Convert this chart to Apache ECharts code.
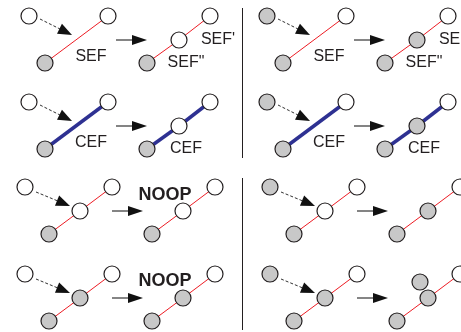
<!DOCTYPE html>
<html>
<head>
<meta charset="utf-8">
<script src="https://cdn.jsdelivr.net/npm/echarts@6/dist/echarts.min.js"></script>
<style>
  html, body { margin: 0; padding: 0; background: #fff; }
  #main { width: 461px; height: 332px; }
</style>
</head>
<body>
<div id="main"></div>
<script>
var W = 461, H = 332;

// split cases (rows 1-2): start, far end, near end | near end, middle, far end
var splitNodes = [[29, 16], [108, 16], [45, 63], [147, 63], [179, 40], [210, 16]];
var splitEdges = [[2, 1], [3, 4], [4, 5]];
var splitRowShift = [0, 86];
var splitColShift = [0, 238];

// merge cases (rows 3-4): start, far end, middle, near end | near end, middle, far end
var mergeNodes = [[25, 187], [112, 187], [80, 211], [49, 234], [152, 234], [183, 211], [215, 187]];
var mergeEdges = [[3, 2], [2, 1], [4, 5], [5, 6]];
var mergeRowShift = [0, 87];
var mergeColShift = [0, 245];

// 1 = grey node, 0 = open node, [row][col]
var splitFill = [
  [[0, 0, 1, 1, 0, 0], [1, 0, 1, 1, 1, 0]],
  [[0, 0, 1, 1, 0, 0], [1, 0, 1, 1, 1, 0]]
];
var mergeFill = [
  [[0, 0, 0, 1, 1, 0, 0], [1, 0, 0, 1, 1, 1, 0]],
  [[0, 0, 1, 1, 1, 1, 0], [1, 0, 1, 1, 1, 1, 0]]
];
var extraNode = [175, 195]; // second grey node, row 4 right

var splitEdgeKind = ['sef', 'cef'];

var splitArrows = [[40, 19, 72, 35, 1], [116, 40, 147, 40, 0]];
var mergeArrows = [[36, 192, 70, 206, 1], [112, 211, 143, 211, 0]];

var splitLabels = [
  [['SEF', 91, 57], ["SEF'", 218, 40], ['SEF"', 186, 63]],
  [['CEF', 91, 57], ['CEF', 186, 63]]
];
var noopLabel = ['NOOP', 165, 195];

var dividers = [[[242, 8], [242, 158]], [[242, 178], [242, 330]]];

var GREY = '#c8c8c8';
var INK = '#231f20';
var edgeStyle = {
  sef: { color: '#ed1c24', width: 1 },
  cef: { color: '#2e3192', width: 3.5 }
};

var nodeData = [], edgeData = [], arrowData = [], labelData = [];

function pushNode(p, grey) {
  nodeData.push({ value: p, itemStyle: { color: grey ? GREY : '#fff' } });
}

splitRowShift.forEach(function (dy, r) {
  splitColShift.forEach(function (dx, c) {
    var pts = splitNodes.map(function (p) { return [p[0] + dx, p[1] + dy]; });
    splitEdges.forEach(function (e) {
      edgeData.push({ coords: [pts[e[0]], pts[e[1]]], lineStyle: edgeStyle[splitEdgeKind[r]] });
    });
    pts.forEach(function (p, i) { pushNode(p, splitFill[r][c][i]); });
    splitArrows.forEach(function (a) {
      arrowData.push([a[0] + dx, a[1] + dy, a[2] + dx, a[3] + dy, a[4]]);
    });
    splitLabels[r].forEach(function (l) {
      labelData.push({ value: [l[1] + dx, l[2] + dy], name: l[0], bold: false });
    });
  });
});

mergeRowShift.forEach(function (dy, r) {
  mergeColShift.forEach(function (dx, c) {
    var pts = mergeNodes.map(function (p) { return [p[0] + dx, p[1] + dy]; });
    mergeEdges.forEach(function (e) {
      edgeData.push({ coords: [pts[e[0]], pts[e[1]]], lineStyle: edgeStyle.sef });
    });
    pts.forEach(function (p, i) {
      if (r === 1 && c === 1 && i === 5) pushNode([extraNode[0] + dx, extraNode[1] + dy], 1);
      pushNode(p, mergeFill[r][c][i]);
    });
    mergeArrows.forEach(function (a) {
      arrowData.push([a[0] + dx, a[1] + dy, a[2] + dx, a[3] + dy, a[4]]);
    });
    if (c === 0) {
      labelData.push({ value: [noopLabel[1] + dx, noopLabel[2] + dy - r], name: noopLabel[0], bold: true });
    }
  });
});

var chart = echarts.init(document.getElementById('main'));

chart.setOption({
  animation: false,
  backgroundColor: '#fff',
  grid: { left: 0, right: 0, top: 0, bottom: 0 },
  xAxis: { type: 'value', min: 0, max: W, show: false },
  yAxis: { type: 'value', min: 0, max: H, inverse: true, show: false },
  series: [
    {
      type: 'lines',
      coordinateSystem: 'cartesian2d',
      z: 1,
      data: dividers.map(function (d) { return { coords: d }; }),
      lineStyle: { color: INK, width: 1, opacity: 1 }
    },
    {
      type: 'lines',
      coordinateSystem: 'cartesian2d',
      z: 2,
      data: edgeData,
      lineStyle: { opacity: 1 }
    },
    {
      type: 'custom',
      z: 3,
      data: arrowData,
      renderItem: function (params, api) {
        var p0 = api.coord([api.value(0), api.value(1)]);
        var p1 = api.coord([api.value(2), api.value(3)]);
        var dashed = api.value(4) === 1;
        var vx = p1[0] - p0[0], vy = p1[1] - p0[1];
        var len = Math.sqrt(vx * vx + vy * vy);
        var ux = vx / len, uy = vy / len;
        var headL = dashed ? 14 : 15, headW = dashed ? 5.5 : 5;
        var bx = p1[0] - ux * headL, by = p1[1] - uy * headL;
        return {
          type: 'group',
          children: [
            {
              type: 'line',
              shape: { x1: p0[0], y1: p0[1], x2: bx + ux * 2, y2: by + uy * 2 },
              style: {
                stroke: dashed ? '#333' : '#666',
                lineWidth: dashed ? 1 : 1.6,
                lineDash: dashed ? [3, 2] : null
              }
            },
            {
              type: 'polygon',
              shape: { points: [p1, [bx - uy * headW, by + ux * headW], [bx + uy * headW, by - ux * headW]] },
              style: { fill: '#111' }
            }
          ]
        };
      }
    },
    {
      type: 'scatter',
      z: 4,
      symbol: 'circle',
      symbolSize: 16,
      data: nodeData,
      itemStyle: { borderColor: INK, borderWidth: 1.2, opacity: 1 },
      silent: true
    },
    {
      type: 'custom',
      z: 5,
      data: labelData,
      renderItem: function (params, api) {
        var d = labelData[params.dataIndex];
        var p = api.coord(d.value);
        return {
          type: 'text',
          x: p[0],
          y: p[1],
          style: {
            text: d.name,
            fill: INK,
            fontFamily: '"Liberation Sans", Arial, sans-serif',
            fontSize: d.bold ? 18 : 16,
            fontWeight: d.bold ? 'bold' : 'normal',
            align: 'center',
            verticalAlign: 'middle'
          }
        };
      }
    }
  ]
});
</script>
</body>
</html>
